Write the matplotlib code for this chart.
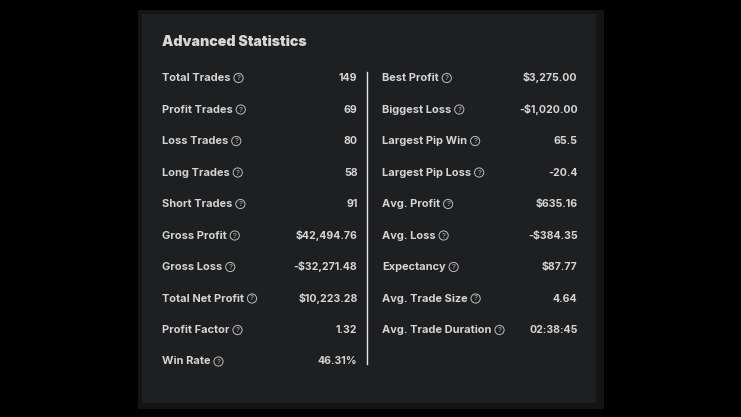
# -*- coding: utf-8 -*-
# advanced statistics panel, drawn in pixel coordinates
import matplotlib
matplotlib.use('Agg')
import matplotlib.pyplot as plt
from matplotlib.patches import Rectangle, Circle

matplotlib.rcParams['font.family'] = ['Inter', 'DejaVu Sans']

title = 'Advanced Statistics'
left_labels = ['Total Trades', 'Profit Trades', 'Loss Trades', 'Long Trades', 'Short Trades',
               'Gross Profit', 'Gross Loss', 'Total Net Profit', 'Profit Factor', 'Win Rate']
left_values = ['149', '69', '80', '58', '91', '$42,494.76', '-$32,271.48', '$10,223.28', '1.32', '46.31%']
right_labels = ['Best Profit', 'Biggest Loss', 'Largest Pip Win', 'Largest Pip Loss', 'Avg. Profit',
                'Avg. Loss', 'Expectancy', 'Avg. Trade Size', 'Avg. Trade Duration']
right_values = ['$3,275.00', '-$1,020.00', '65.5', '-20.4', '$635.16',
                '-$384.35', '$87.77', '4.64', '02:38:45']

W, H = 741, 417
text_col = '#d4d4d4'

fig = plt.figure(figsize=(W / 100, H / 100), dpi=100, facecolor='black')
ax = fig.add_axes([0, 0, 1, 1])
ax.set_xlim(0, W)
ax.set_ylim(H, 0)
ax.axis('off')

ax.add_patch(Rectangle((138, 10), 466, 399, fc='#131415', ec='none'))
ax.add_patch(Rectangle((142, 14), 454, 389, fc='#1e1f21', ec='none'))
ax.text(162, 46, title, color='#d6d6d6', fontsize=10.25, fontweight=900, va='baseline', ha='left')
ax.plot([367, 367], [72, 363.5], color='#e6e6e6', lw=1)


def draw_column(labels, values, x_label, x_value):
    for i in range(len(labels)):
        y = 81 + i * 31.5
        t = ax.text(x_label, y, labels[i], color=text_col, fontsize=7.95, fontweight='bold',
                    va='baseline', ha='left')
        ax.text(x_value, y, values[i], color=text_col, fontsize=7.6, fontweight='bold',
                va='baseline', ha='right')
        # help icon sits right after the label
        box = t.get_window_extent(fig.canvas.get_renderer())
        cx = box.x1 + 8
        ax.add_patch(Circle((cx, y - 3), 4.6, fc='none', ec='#bdbdbd', lw=0.7))
        ax.text(cx, y - 3, '?', color='#bdbdbd', fontsize=5.5, va='center', ha='center')


draw_column(left_labels, left_values, 162, 357.5)
draw_column(right_labels, right_values, 382, 577.5)

fig.savefig('out.png', dpi=100, facecolor='black')
